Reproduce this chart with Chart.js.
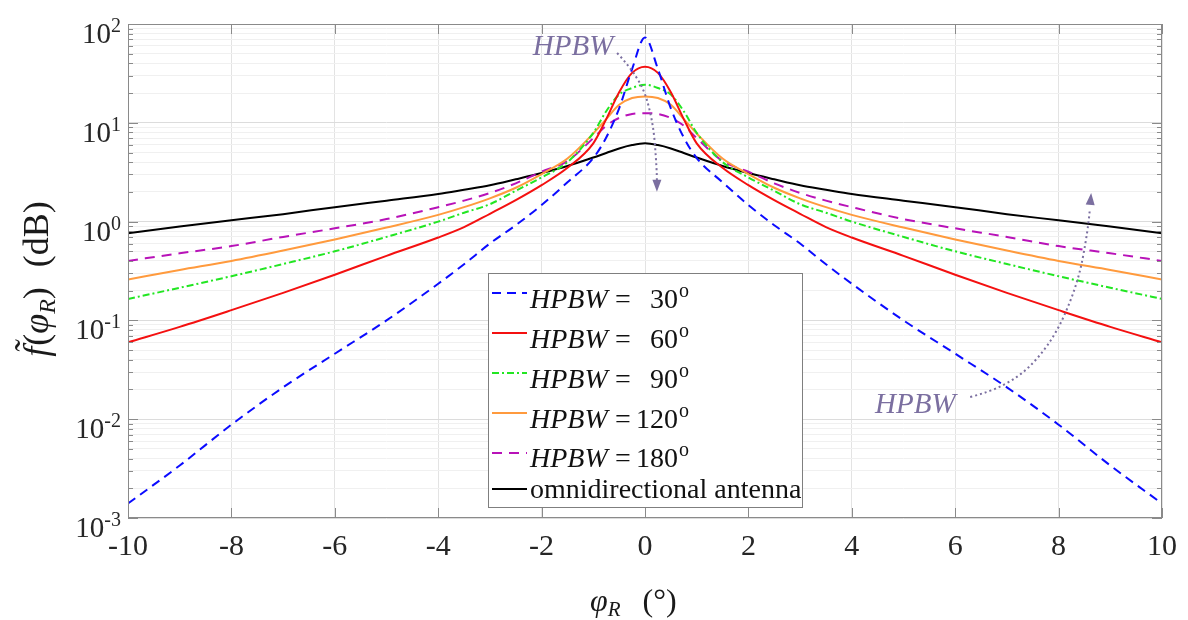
<!DOCTYPE html>
<html><head><meta charset="utf-8">
<script src="https://cdn.jsdelivr.net/npm/chart.js@4"></script>
<style>html,body{margin:0;padding:0;background:#fff}#wrap{width:1188px;height:620px}</style>
</head><body><div id="wrap"><canvas id="c" width="1188" height="620"></canvas></div>
<script>
// ---------- data ----------
const angles = [-10,-9,-8,-7,-6,-5,-4,-3.5,-3,-2.5,-2,-1.5,-1,-0.75,-0.5,-0.25,0,0.25,0.5,0.75,1,1.5,2,2.5,3,3.5,4,5,6,7,8,9,10];
const hpbw30  = [0.0014,0.0034,0.0088,0.021,0.046,0.10,0.235,0.37,0.60,0.92,1.47,2.5,4.4,7.1,14,35,73,35,14,7.1,4.4,2.5,1.47,0.92,0.60,0.37,0.235,0.10,0.046,0.021,0.0088,0.0034,0.0014];
const hpbw60  = [0.060,0.086,0.127,0.19,0.29,0.45,0.69,0.88,1.20,1.65,2.34,3.5,6.2,10.9,20.4,32,37,32,20.4,10.9,6.2,3.5,2.34,1.65,1.20,0.88,0.69,0.45,0.29,0.19,0.127,0.086,0.060];
const hpbw90  = [0.165,0.214,0.28,0.372,0.50,0.70,1.0,1.23,1.50,2.05,2.8,4.0,7.9,13.1,19.3,22.5,24.3,22.5,19.3,13.1,7.9,4.0,2.8,2.05,1.50,1.23,1.0,0.70,0.50,0.372,0.28,0.214,0.165];
const hpbw120 = [0.26,0.324,0.40,0.51,0.66,0.87,1.17,1.40,1.72,2.20,3.03,4.35,7.8,10.9,15.2,17.8,18.5,17.8,15.2,10.9,7.8,4.35,3.03,2.20,1.72,1.40,1.17,0.87,0.66,0.51,0.40,0.324,0.26];
const hpbw180 = [0.40,0.478,0.565,0.70,0.855,1.06,1.40,1.63,1.95,2.44,3.2,4.1,7.0,9.35,11.2,12.3,12.5,12.3,11.2,9.35,7.0,4.1,3.2,2.44,1.95,1.63,1.40,1.06,0.855,0.70,0.565,0.478,0.40];
const omni    = [0.76,0.89,1.03,1.19,1.40,1.63,1.90,2.10,2.33,2.68,3.1,3.65,4.45,4.95,5.5,5.95,6.2,5.95,5.5,4.95,4.45,3.65,3.1,2.68,2.33,2.10,1.90,1.63,1.40,1.19,1.03,0.89,0.76];
const xTickValues = [-10,-8,-6,-4,-2,0,2,4,6,8,10];
const yDecadeExponents = [-3,-2,-1,0,1,2];
const hpbwLabels = ['30','60','90','120','180'];
const omniLabel = 'omnidirectional antenna';
const annotationText = 'HPBW';
// annotation arrows in data coordinates [deg, value]
const arrowDown = [[-0.54,50.9],[-0.10,29.1],[0.155,10.7],[0.23,3.33],[0.23,2.0]];
const arrowUp   = [[6.29,0.0168],[7.0,0.0207],[7.83,0.0538],[8.36,0.218],[8.57,0.822],[8.63,1.95]];
const annoTop = [-2.17, 58.5];
const annoBottom = [4.45, 0.0139];

// ---------- styles ----------
const SERIF = '"Liberation Serif","Times New Roman",serif';
const series = [
  {data:hpbw30,  color:'#0b0bff', dash:[9,6]},
  {data:hpbw60,  color:'#f41010', dash:[]},
  {data:hpbw90,  color:'#22e622', dash:[7,3,2,3]},
  {data:hpbw120, color:'#ff9a3d', dash:[]},
  {data:hpbw180, color:'#b812b8', dash:[10,7]},
  {data:omni,    color:'#000000', dash:[]}
];
const isMajor = v => Math.abs(Math.log10(v) - Math.round(Math.log10(v))) < 1e-9;

function drawRuns(ctx, runs, x, y){
  let cx = x;
  for (const r of runs){
    ctx.font = r.font;
    ctx.fillText(r.t, cx, y + (r.dy||0));
    cx += ctx.measureText(r.t).width + (r.gap||0);
  }
  return cx;
}
function runsWidth(ctx, runs){
  let w = 0;
  for (const r of runs){ ctx.font = r.font; w += ctx.measureText(r.t).width + (r.gap||0); }
  return w;
}

const deco = {
  id:'deco',
  afterDraw(chart){
    const {ctx, chartArea:a, scales:{x, y}} = chart;
    ctx.save();
    // axes box
    ctx.strokeStyle = '#8a8a8a'; ctx.lineWidth = 1;
    ctx.strokeRect(a.left+0.5, a.top+0.5, a.right-a.left-1, a.bottom-a.top-1);
    // inward ticks
    ctx.beginPath();
    for (const v of xTickValues){
      const px = Math.round(x.getPixelForValue(v))+0.5;
      ctx.moveTo(px, a.bottom); ctx.lineTo(px, a.bottom-10);
      ctx.moveTo(px, a.top); ctx.lineTo(px, a.top+10);
    }
    for (const t of y.ticks){
      const py = Math.round(y.getPixelForValue(t.value))+0.5;
      const L = isMajor(t.value) ? 10 : 5;
      ctx.moveTo(a.left, py); ctx.lineTo(a.left+L, py);
      ctx.moveTo(a.right, py); ctx.lineTo(a.right-L, py);
    }
    ctx.stroke();

    // y tick labels 10^n
    ctx.fillStyle = '#262626'; ctx.textBaseline = 'alphabetic'; ctx.textAlign = 'left';
    for (const e of yDecadeExponents){
      const py = y.getPixelForValue(Math.pow(10, e));
      const runs = [{t:'10', font:'29px '+SERIF}, {t:String(e), font:'20px '+SERIF, dy:-11}];
      const w = runsWidth(ctx, runs);
      drawRuns(ctx, runs, 121 - w, py + 19);
    }

    // y title (rotated)
    ctx.save();
    ctx.translate(48, 279);
    ctx.rotate(-Math.PI/2);
    ctx.fillStyle = '#1a1a1a';
    const yRuns = [
      {t:'f\u0303', font:'italic 36px '+SERIF, gap:1},
      {t:'(', font:'36px '+SERIF},
      {t:'\u03C6', font:'italic 36px '+SERIF},
      {t:'R', font:'italic 24px '+SERIF, dy:7},
      {t:')', font:'36px '+SERIF, gap:20},
      {t:'(dB)', font:'36px '+SERIF}
    ];
    drawRuns(ctx, yRuns, -runsWidth(ctx, yRuns)/2, 0);
    ctx.restore();

    // x title
    ctx.fillStyle = '#1a1a1a';
    drawRuns(ctx, [
      {t:'\u03C6', font:'italic 32px '+SERIF},
      {t:'R', font:'italic 21px '+SERIF, dy:5, gap:22},
      {t:'(\u00B0)', font:'32px '+SERIF}
    ], 590, 611);

    // annotations
    ctx.strokeStyle = '#7b6fa0'; ctx.fillStyle = '#7b6fa0'; ctx.lineWidth = 2;
    const drawArrow = (pts) => {
      const p = pts.map(([dx,dy]) => [x.getPixelForValue(dx), y.getPixelForValue(dy)]);
      ctx.setLineDash([2,3]);
      ctx.beginPath();
      ctx.moveTo(p[0][0], p[0][1]);
      for (let i=1;i<p.length-1;i++){
        const mx = (p[i][0]+p[i+1][0])/2, my = (p[i][1]+p[i+1][1])/2;
        ctx.quadraticCurveTo(p[i][0], p[i][1], mx, my);
      }
      const tip = p[p.length-1], prev = p[p.length-2];
      ctx.stroke();
      ctx.setLineDash([]);
      const ang = Math.atan2(tip[1]-prev[1], tip[0]-prev[0]);
      ctx.beginPath();
      ctx.moveTo(tip[0], tip[1]);
      ctx.lineTo(tip[0]-12*Math.cos(ang)+4.5*Math.sin(ang), tip[1]-12*Math.sin(ang)-4.5*Math.cos(ang));
      ctx.lineTo(tip[0]-12*Math.cos(ang)-4.5*Math.sin(ang), tip[1]-12*Math.sin(ang)+4.5*Math.cos(ang));
      ctx.closePath(); ctx.fill();
    };
    drawArrow(arrowDown);
    drawArrow(arrowUp);
    ctx.font = 'italic 29px '+SERIF; ctx.textBaseline = 'middle';
    ctx.fillText(annotationText, x.getPixelForValue(annoTop[0]), y.getPixelForValue(annoTop[1]));
    ctx.fillText(annotationText, x.getPixelForValue(annoBottom[0]), y.getPixelForValue(annoBottom[1]));

    // legend
    const bx = 488, by = 273, bw = 314, bh = 234;
    ctx.fillStyle = '#ffffff'; ctx.fillRect(bx, by, bw, bh);
    ctx.strokeStyle = '#7f7f7f'; ctx.lineWidth = 1;
    ctx.strokeRect(bx+0.5, by+0.5, bw, bh);
    const baselines = [308, 348, 388, 428, 467, 498];
    const sampleY = [293, 333, 373, 413, 453, 489];
    ctx.textBaseline = 'alphabetic';
    series.forEach((s, i) => {
      ctx.strokeStyle = s.color; ctx.lineWidth = 2; ctx.setLineDash(s.dash);
      ctx.beginPath(); ctx.moveTo(492, sampleY[i]); ctx.lineTo(527, sampleY[i]); ctx.stroke();
      ctx.setLineDash([]);
      ctx.fillStyle = '#111';
      if (i < hpbwLabels.length){
        ctx.font = 'italic 28px '+SERIF; ctx.fillText('HPBW', 530, baselines[i]);
        ctx.font = '28px '+SERIF; ctx.fillText('=', 615, baselines[i]);
        const nw = ctx.measureText(hpbwLabels[i]).width;
        ctx.fillText(hpbwLabels[i], 678 - nw, baselines[i]);
        ctx.font = '20px '+SERIF; ctx.fillText('o', 679, baselines[i] - 11);
      } else {
        ctx.font = '28px '+SERIF; ctx.fillText(omniLabel, 530, baselines[i]);
      }
    });
    ctx.restore();
  }
};

new Chart(document.getElementById('c'), {
  type:'line',
  data:{
    datasets: series.map((s, i) => ({
      label: i < hpbwLabels.length ? 'HPBW = ' + hpbwLabels[i] + '\u00B0' : omniLabel,
      data: angles.map((a, k) => ({x:a, y:s.data[k]})),
      borderColor: s.color, borderWidth: 2, borderDash: s.dash,
      pointRadius: 0, fill: false, cubicInterpolationMode: 'monotone'
    }))
  },
  options:{
    responsive:false, animation:false, devicePixelRatio:1,
    layout:{padding:{left:0, right:26, top:24, bottom:0}},
    plugins:{legend:{display:false}, tooltip:{enabled:false}},
    scales:{
      x:{type:'linear', min:-10, max:10,
        afterBuildTicks(s){ s.ticks = xTickValues.map(v => ({value:v})); },
        ticks:{font:{family:SERIF, size:30}, color:'#262626', padding:11, maxRotation:0, autoSkip:false, callback:v => String(v)},
        grid:{color:'#e3e3e3', drawTicks:false}, border:{display:false},
        afterFit(s){ s.height = 102; }
      },
      y:{type:'logarithmic', min:1e-3, max:1e2,
        afterBuildTicks(s){
          const t = [];
          for (const e of yDecadeExponents){
            for (let m=1; m<=9; m++){
              const v = m*Math.pow(10, e);
              if (v <= 100.0001 && v >= 0.00099) t.push({value:v});
            }
          }
          s.ticks = t;
        },
        ticks:{display:false},
        grid:{color:c => (c.tick && isMajor(c.tick.value)) ? '#dcdcdc' : '#f0f0f0', drawTicks:false},
        border:{display:false},
        afterFit(s){ s.width = 128; }
      }
    }
  },
  plugins:[deco]
});
</script>
</body></html>
